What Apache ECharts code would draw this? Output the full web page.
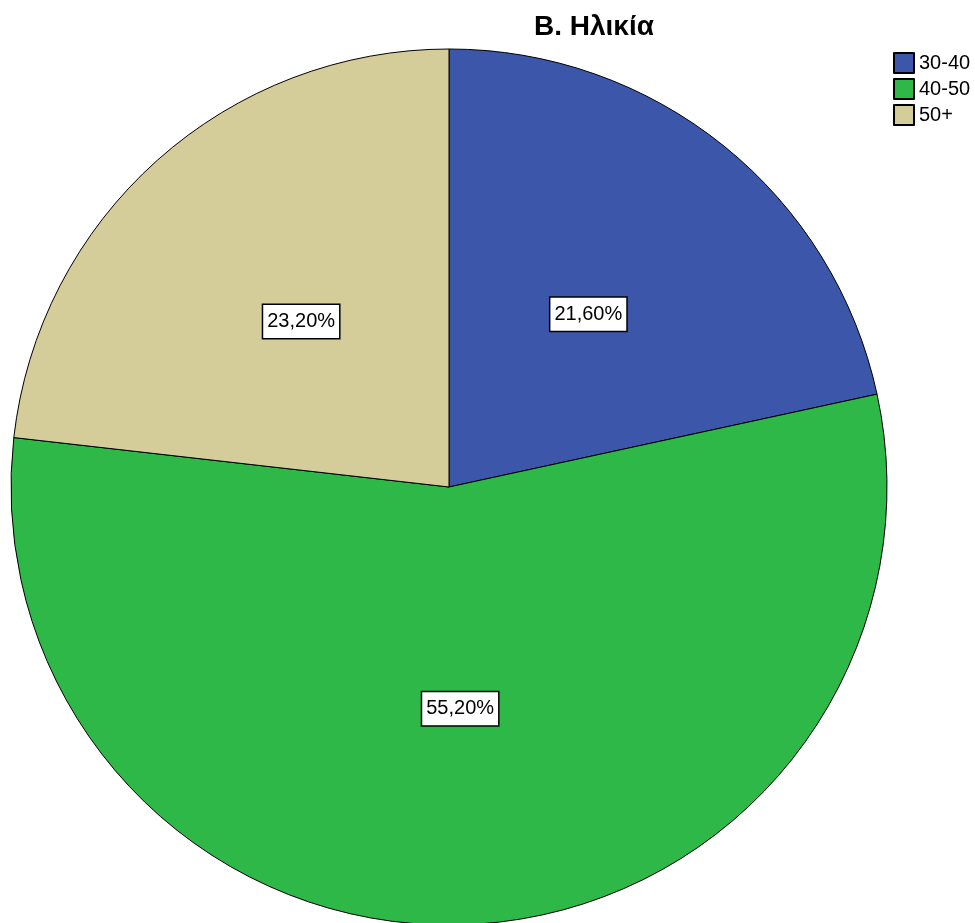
<!DOCTYPE html>
<html>
<head>
<meta charset="utf-8">
<script src="https://cdn.jsdelivr.net/npm/echarts@6/dist/echarts.min.js"></script>
<style>html,body{margin:0;padding:0;background:#fff;}#c{width:975px;height:923px;}</style>
</head>
<body>
<div id="c"></div>
<script>
const categories = ['30-40', '40-50', '50+'];
const values = [21.6, 55.2, 23.2];
const colors = ['#3C56AA', '#2DB847', '#D4CD9A'];
const titleText = 'B. Ηλικία';

const chart = echarts.init(document.getElementById('c'));
chart.setOption({
  backgroundColor: '#ffffff',
  animation: false,
  title: {
    text: titleText,
    left: 589, top: 8, textAlign: 'center',
    textStyle: { fontFamily: 'Liberation Sans, Arial, sans-serif', fontSize: 28, fontWeight: 'bold', color: '#000' }
  },
  legend: {
    orient: 'vertical',
    left: 893, top: 52,
    padding: 0,
    itemWidth: 20, itemHeight: 20, itemGap: 4,
    icon: 'rect',
    textStyle: { fontFamily: 'Liberation Sans, Arial, sans-serif', fontSize: 20, lineHeight: 20, color: '#000' },
    data: categories
  },
  series: [{
    type: 'pie',
    center: [449, 487],
    radius: 438,
    startAngle: 90,
    clockwise: true,
    avoidLabelOverlap: false,
    itemStyle: { borderColor: '#000', borderWidth: 1 },
    label: {
      show: true,
      position: 'inside',
      formatter: p => p.value.toFixed(2).replace('.', ',') + '%',
      fontFamily: 'Liberation Sans, Arial, sans-serif',
      fontSize: 20,
      lineHeight: 22,
      color: '#000',
      backgroundColor: '#fff',
      borderColor: '#000',
      borderWidth: 1.5,
      padding: [6, 4, 5, 4]
    },
    labelLine: { show: false },
    emphasis: { disabled: true },
    data: categories.map((c, i) => ({ name: c, value: values[i], itemStyle: { color: colors[i] } }))
  }]
});
</script>
</body>
</html>
